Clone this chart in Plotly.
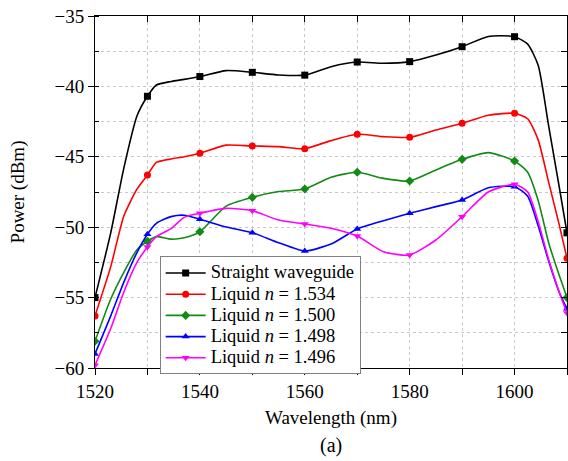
import plotly.graph_objects as go

# ---------------- data ----------------
wavelength = [1520, 1523, 1525.5, 1528, 1530, 1531.7, 1534.5, 1537, 1540, 1545,
              1550, 1555, 1560, 1565, 1570, 1575, 1580, 1585, 1590, 1595,
              1600, 1602.5, 1604.5, 1606.5, 1608.5, 1610]

straight = [-55.0, -50.4, -45.8, -42.1, -40.7, -39.9, -39.65, -39.5, -39.3, -38.88,
            -39.0, -39.19, -39.2, -38.6, -38.27, -38.36, -38.24, -37.77, -37.18, -36.45,
            -36.47, -37.0, -38.5, -42.8, -47.1, -50.4]

n1534 = [-56.3, -52.8, -49.2, -47.3, -46.3, -45.4, -45.15, -45.0, -44.75, -44.17,
         -44.23, -44.28, -44.42, -43.85, -43.4, -43.57, -43.62, -43.1, -42.62, -42.05,
         -41.91, -42.3, -43.8, -46.8, -49.8, -52.2]

n1500 = [-58.1, -55.1, -53.2, -51.6, -51.0, -50.67, -50.85, -50.75, -50.32, -48.5,
         -47.88, -47.47, -47.29, -46.45, -46.1, -46.53, -46.72, -45.94, -45.18, -44.7,
         -45.3, -46.1, -48.1, -51.1, -53.4, -55.0]

n1498 = [-59.0, -56.3, -53.9, -51.8, -50.5, -49.72, -49.25, -49.15, -49.44, -49.98,
         -50.39, -51.1, -51.69, -51.2, -50.13, -49.54, -49.01, -48.54, -48.07, -47.2,
         -47.12, -47.8, -49.9, -52.4, -54.6, -55.8]

n1496 = [-59.8, -57.2, -54.6, -52.5, -51.4, -50.67, -50.1, -49.3, -49.01, -48.66,
         -48.83, -49.49, -49.77, -50.07, -50.63, -51.74, -51.97, -50.91, -49.25, -47.5,
         -46.95, -47.5, -49.6, -52.3, -54.6, -56.1]

marker_wavelengths = [1520, 1530, 1540, 1550, 1560, 1570, 1580, 1590, 1600, 1610]

series_names = ["Straight waveguide",
                "Liquid <i>n</i> = 1.534",
                "Liquid <i>n</i> = 1.500",
                "Liquid <i>n</i> = 1.498",
                "Liquid <i>n</i> = 1.496"]
series_values = [straight, n1534, n1500, n1498, n1496]
series_colors = ["#000000", "#FF0000", "#138A13", "#0000FF", "#FF00FF"]
series_symbols = ["square", "circle", "diamond", "triangle-up", "triangle-down"]

x_ticks = [1520, 1540, 1560, 1580, 1600]
y_ticks = [-60, -55, -50, -45, -40, -35]

FONT = "Liberation Serif, Times New Roman, serif"

fig = go.Figure()

for name, vals, col, sym in zip(series_names, series_values, series_colors, series_symbols):
    # smooth curve
    fig.add_trace(go.Scatter(x=wavelength, y=vals, mode="lines",
                             line=dict(color=col, width=1.6, shape="spline", smoothing=0.6),
                             showlegend=False, hoverinfo="skip"))
    # markers every 10 nm
    mx = [w for w in wavelength if w in marker_wavelengths]
    my = [v for w, v in zip(wavelength, vals) if w in marker_wavelengths]
    fig.add_trace(go.Scatter(x=mx, y=my, mode="markers",
                             marker=dict(symbol=sym, color=col, size=7),
                             showlegend=False))
    # legend entry
    fig.add_trace(go.Scatter(x=[None], y=[None], mode="lines+markers",
                             name='<span style="font-size:18.5px">' + name + '</span>',
                             line=dict(color=col, width=1.6),
                             marker=dict(symbol=sym, color=col, size=7)))

# dummy trace for the mirrored (top/right) axes with inside ticks
fig.add_trace(go.Scatter(x=[None], y=[None], xaxis="x2", yaxis="y2",
                         showlegend=False, hoverinfo="skip"))

grid_col = "#c8c8c8"
fig.update_layout(
    width=568, height=461,
    margin=dict(l=95, r=1, t=16, b=93),
    paper_bgcolor="white", plot_bgcolor="white",
    font=dict(family=FONT, size=19, color="black"),
    xaxis=dict(range=[1520, 1610], tickmode="array", tickvals=x_ticks,
               ticks="outside", ticklen=6, tickwidth=1, tickcolor="black",
               showline=True, linecolor="black", linewidth=1,
               showgrid=True, gridcolor=grid_col, griddash="dot", gridwidth=1,
               zeroline=False, automargin=False, ticklabeloverflow="allow",
               minor=dict(dtick=10, tick0=1520, ticks="outside", ticklen=6,
                          tickcolor="black", showgrid=True, gridcolor=grid_col,
                          griddash="dot"),
               title=dict(text="Wavelength (nm)", font=dict(size=19), standoff=9),
               tickfont=dict(size=19)),
    yaxis=dict(range=[-60, -35], tickmode="array", tickvals=y_ticks,
               ticks="outside", ticklen=6, tickwidth=1, tickcolor="black",
               showline=True, linecolor="black", linewidth=1,
               showgrid=True, gridcolor=grid_col, griddash="dot", gridwidth=1,
               zeroline=False, automargin=False, ticklabeloverflow="allow",
               minor=dict(dtick=2.5, tick0=-60, ticks="inside", ticklen=4,
                          tickcolor="black", showgrid=True, gridcolor=grid_col,
                          griddash="dot"),
               title=dict(text="Power (dBm)", font=dict(size=19), standoff=24),
               tickfont=dict(size=19)),
    xaxis2=dict(range=[1520, 1610], overlaying="x", side="top", anchor="y2",
                showticklabels=False, ticks="inside", ticklen=6, dtick=10, tick0=1520,
                tickcolor="black", showline=True, linecolor="black", linewidth=1,
                showgrid=False, zeroline=False, automargin=False),
    yaxis2=dict(range=[-60, -35], overlaying="y", side="right", anchor="x2",
                showticklabels=False, ticks="inside", ticklen=6, dtick=2.5, tick0=-60,
                tickcolor="black", showline=True, linecolor="black", linewidth=1,
                showgrid=False, zeroline=False, automargin=False),
    legend=dict(x=0.137, y=0.317, xanchor="left", yanchor="top",
                bgcolor="white", bordercolor="#808080", borderwidth=1,
                font=dict(family=FONT, size=14, color="black"),
                itemwidth=40, tracegroupgap=0),
    annotations=[dict(text="(a)", xref="paper", yref="paper", x=0.5, y=-0.219,
                      xanchor="center", yanchor="middle", showarrow=False,
                      font=dict(family=FONT, size=20, color="black"))],
    showlegend=True,
)

fig.write_html(
    "out.html",
    config={"displayModeBar": False},
    post_script=("document.body.style.margin='0';"
                 "document.body.style.overflow='hidden';"
                 "document.documentElement.style.overflow='hidden';"),
)
